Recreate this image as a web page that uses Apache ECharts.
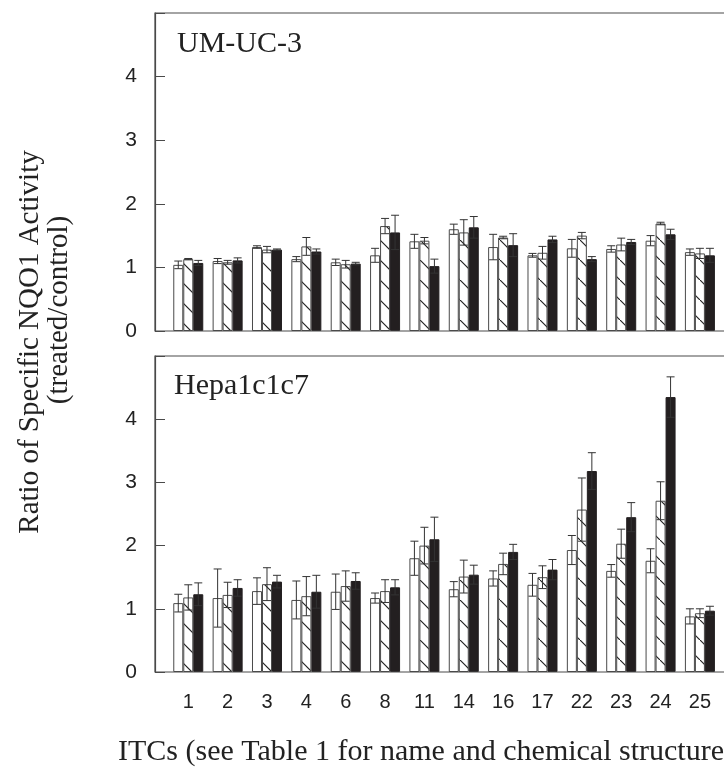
<!DOCTYPE html>
<html>
<head>
<meta charset="utf-8">
<script src="https://cdn.jsdelivr.net/npm/echarts@6/dist/echarts.min.js"></script>
<style>
  html, body { margin: 0; padding: 0; background: #fff; }
  #chart { width: 724px; height: 771px; }
</style>
</head>
<body>
<div id="chart"></div>
<script>
const categories = ['1', '2', '3', '4', '6', '8', '11', '14', '16', '17', '22', '23', '24', '25'];
const yTicks = [0, 1, 2, 3, 4];

// UM-UC-3 panel (white, hatched, black bars) with error values
const umucWhite = [1.04, 1.10, 1.32, 1.13, 1.08, 1.19, 1.41, 1.60, 1.32, 1.19, 1.30, 1.29, 1.42, 1.24];
const umucWhiteErr = [0.06, 0.04, 0.02, 0.04, 0.05, 0.11, 0.11, 0.08, 0.20, 0.03, 0.14, 0.05, 0.08, 0.05];
const umucHatch = [1.13, 1.08, 1.28, 1.33, 1.05, 1.65, 1.42, 1.55, 1.47, 1.23, 1.50, 1.36, 1.69, 1.22];
const umucHatchErr = [0.01, 0.03, 0.05, 0.14, 0.06, 0.12, 0.05, 0.20, 0.02, 0.10, 0.05, 0.10, 0.02, 0.08];
const umucBlack = [1.07, 1.11, 1.28, 1.25, 1.06, 1.55, 1.02, 1.63, 1.35, 1.44, 1.13, 1.40, 1.52, 1.19];
const umucBlackErr = [0.04, 0.04, 0.01, 0.04, 0.02, 0.27, 0.11, 0.17, 0.18, 0.05, 0.04, 0.04, 0.08, 0.11];

// Hepa1c1c7 panel
const hepaWhite = [1.09, 1.17, 1.28, 1.14, 1.27, 1.17, 1.80, 1.31, 1.48, 1.38, 1.93, 1.60, 1.76, 0.88];
const hepaWhiteErr = [0.14, 0.46, 0.21, 0.30, 0.28, 0.08, 0.27, 0.12, 0.12, 0.18, 0.23, 0.10, 0.19, 0.12];
const hepaHatch = [1.18, 1.22, 1.39, 1.20, 1.36, 1.28, 2.00, 1.51, 1.71, 1.50, 2.57, 2.03, 2.71, 0.93];
const hepaHatchErr = [0.20, 0.20, 0.26, 0.31, 0.24, 0.18, 0.29, 0.26, 0.17, 0.18, 0.50, 0.23, 0.30, 0.07];
const hepaBlack = [1.23, 1.33, 1.43, 1.27, 1.44, 1.34, 2.10, 1.54, 1.90, 1.62, 3.18, 2.45, 4.35, 0.97];
const hepaBlackErr = [0.18, 0.13, 0.10, 0.26, 0.13, 0.12, 0.35, 0.15, 0.12, 0.16, 0.29, 0.23, 0.32, 0.07];

const BAR_W = 10;
const EDGE = '#4a4a4a';

function hatchPattern() {
  const c = document.createElement('canvas');
  c.width = 20; c.height = 20;
  const ctx = c.getContext('2d');
  ctx.fillStyle = '#fff';
  ctx.fillRect(0, 0, 20, 20);
  ctx.strokeStyle = '#222';
  ctx.lineWidth = 1.2;
  ctx.beginPath();
  ctx.moveTo(-2, -2); ctx.lineTo(22, 22);
  ctx.stroke();
  return { image: c, repeat: 'repeat' };
}

const fills = [
  { color: '#fff', borderColor: EDGE, borderWidth: 1 },
  { color: hatchPattern(), borderColor: EDGE, borderWidth: 1 },
  { color: '#231f20', borderColor: '#231f20', borderWidth: 1 },
];

function barSeries(values, k, gridIdx) {
  return {
    type: 'bar',
    xAxisIndex: gridIdx, yAxisIndex: gridIdx,
    barWidth: BAR_W, barGap: '0%',
    itemStyle: fills[k],
    animation: false,
    data: values,
  };
}

function errorSeries(values, errs, k, gridIdx) {
  const shift = (k - 1) * BAR_W;
  return {
    type: 'custom',
    xAxisIndex: gridIdx, yAxisIndex: gridIdx,
    z: 5,
    animation: false,
    silent: true,
    data: values.map((v, i) => [i, v, errs[i]]),
    renderItem: (params, api) => {
      const i = api.value(0), v = api.value(1), e = api.value(2);
      const top = api.coord([i, v + e]);
      const bot = api.coord([i, v - e]);
      const x = top[0] + shift;
      const style = { stroke: '#333', lineWidth: 1 };
      return {
        type: 'group',
        children: [
          { type: 'line', shape: { x1: x, y1: top[1], x2: x, y2: bot[1] }, style },
          { type: 'line', shape: { x1: x - 4, y1: top[1], x2: x + 4, y2: top[1] }, style },
          { type: 'line', shape: { x1: x - 4, y1: bot[1], x2: x + 4, y2: bot[1] }, style },
        ],
      };
    },
  };
}

function yAxisFor(gridIdx) {
  return {
    gridIndex: gridIdx,
    type: 'value', min: 0, max: 5, interval: 1,
    offset: 13.6,
    axisLine: { show: true, lineStyle: { color: EDGE, width: 1.2 } },
    axisTick: { show: true, inside: true, length: 10, lineStyle: { color: EDGE } },
    splitLine: { show: false },
    axisLabel: {
      margin: 18,
      color: '#222', fontSize: 21, fontFamily: 'Liberation Sans',
      formatter: v => (yTicks.includes(v) ? String(v) : ''),
    },
  };
}

const chart = echarts.init(document.getElementById('chart'));
chart.setOption({
  animation: false,
  grid: [
    { left: 168.6, width: 551, top: 13, height: 318, outerBoundsMode: 'none', containLabel: false },
    { left: 168.6, width: 551, top: 356, height: 316, outerBoundsMode: 'none', containLabel: false },
  ],
  xAxis: [
    { gridIndex: 0, type: 'category', data: categories, axisLine: { show: false }, axisTick: { show: false }, axisLabel: { show: false } },
    {
      gridIndex: 1, type: 'category', data: categories,
      axisLine: { show: false }, axisTick: { show: false },
      axisLabel: { margin: 20, color: '#222', fontSize: 20, fontFamily: 'Liberation Sans' },
    },
  ],
  yAxis: [yAxisFor(0), yAxisFor(1)],
  graphic: [
    { type: 'rect', shape: { x: 155, y: 13, width: 700, height: 318 }, style: { fill: 'none', stroke: EDGE, lineWidth: 1.2 }, z: 10 },
    { type: 'rect', shape: { x: 155, y: 356, width: 700, height: 316 }, style: { fill: 'none', stroke: EDGE, lineWidth: 1.2 }, z: 10 },
    { type: 'text', left: 177, top: 29, style: { text: 'UM-UC-3', font: '30px "Liberation Serif"', fill: '#222' } },
    { type: 'text', left: 174, top: 371, style: { text: 'Hepa1c1c7', font: '30px "Liberation Serif"', fill: '#222' } },
    { type: 'text', x: 30, y: 342, rotation: Math.PI / 2, style: { text: 'Ratio of Specific NQO1 Activity', font: '29px "Liberation Serif"', fill: '#222', align: 'center', verticalAlign: 'middle' } },
    { type: 'text', x: 59, y: 310, rotation: Math.PI / 2, style: { text: '(treated/control)', font: '29px "Liberation Serif"', fill: '#222', align: 'center', verticalAlign: 'middle' } },
    { type: 'text', x: 118, y: 752, style: { text: 'ITCs (see Table 1 for name and chemical structures)', font: '30px "Liberation Serif"', fill: '#222', align: 'left', verticalAlign: 'middle' } },
  ],
  series: [
    barSeries(umucWhite, 0, 0), barSeries(umucHatch, 1, 0), barSeries(umucBlack, 2, 0),
    errorSeries(umucWhite, umucWhiteErr, 0, 0), errorSeries(umucHatch, umucHatchErr, 1, 0), errorSeries(umucBlack, umucBlackErr, 2, 0),
    barSeries(hepaWhite, 0, 1), barSeries(hepaHatch, 1, 1), barSeries(hepaBlack, 2, 1),
    errorSeries(hepaWhite, hepaWhiteErr, 0, 1), errorSeries(hepaHatch, hepaHatchErr, 1, 1), errorSeries(hepaBlack, hepaBlackErr, 2, 1),
  ],
});
</script>
</body>
</html>
